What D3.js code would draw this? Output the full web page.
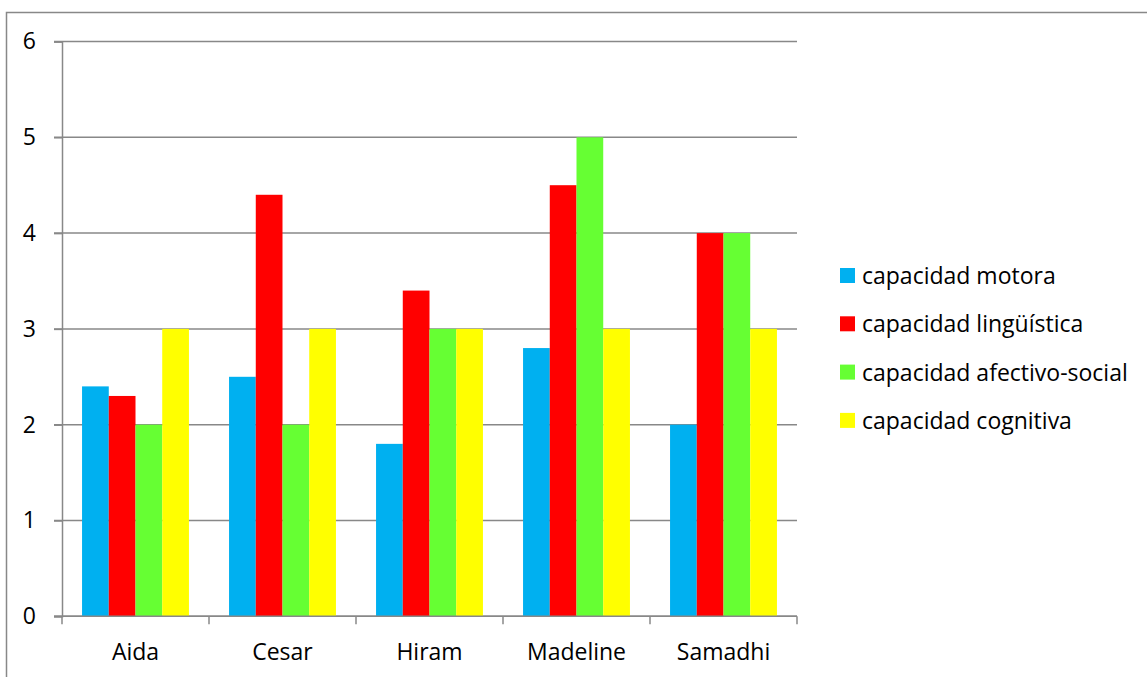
<!DOCTYPE html>
<html>
<head>
<meta charset="utf-8">
<script src="https://cdn.jsdelivr.net/npm/d3@7"></script>
<style>
  body { margin: 0; background: #fff; }
  text { font-family: "Open Sans", "Noto Sans", sans-serif; fill: #000; }
</style>
</head>
<body>
<svg id="chart"></svg>
<script>
let names = ["Aida", "Cesar", "Hiram", "Madeline", "Samadhi"]
let series_names = ["capacidad motora", "capacidad lingüística", "capacidad afectivo-social", "capacidad cognitiva"]
let series_colors = ["#00b0f0", "#ff0000", "#66ff33", "#ffff00"]
let motora = [2.4, 2.5, 1.8, 2.8, 2]
let linguistica = [2.3, 4.4, 3.4, 4.5, 4]
let afectivo = [2, 2, 3, 5, 4]
let cognitiva = [3, 3, 3, 3, 3]
let y_ticks = [0, 1, 2, 3, 4, 5, 6]

let series_values = [motora, linguistica, afectivo, cognitiva]

let width = 1147
let height = 677
let font_size = '23px'
let svg = d3.select('#chart')
    .attr('width', width)
    .attr('height', height)

// outer frame, runs off the right and bottom edge
svg.append('rect')
    .attr('x', 6.5)
    .attr('y', 12.5)
    .attr('width', 1160)
    .attr('height', 700)
    .attr('fill', 'none')
    .attr('stroke', '#888')
    .attr('stroke-width', 1.5)

let p_left = 62, p_right = 797, p_top = 41.5, p_bottom = 616.3

let x0 = d3.scaleBand()
    .domain(names)
    .range([p_left, p_right])
    .paddingInner(0)
    .paddingOuter(0)

let x1 = d3.scaleBand()
    .domain(d3.range(series_names.length))
    .range([0, x0.bandwidth()])
    .paddingInner(0)
    .paddingOuter(0.75)  // gap width ~150%

let y = d3.scaleLinear()
    .domain([0, 6])
    .range([p_bottom, p_top])

// gridlines
svg.append('g')
    .selectAll('line')
    .data(y_ticks)
    .enter()
    .append('line')
    .attr('x1', p_left - 8)
    .attr('x2', p_right)
    .attr('y1', function(d){ return y(d) })
    .attr('y2', function(d){ return y(d) })
    .attr('stroke', '#888')
    .attr('stroke-width', 1.5)

// bars
let groups = svg.append('g')
    .selectAll('g')
    .data(names)
    .enter()
    .append('g')
    .attr('transform', function(d){ return 'translate(' + x0(d) + ',0)' })

groups.selectAll('rect')
    .data(function(d, i){ return series_values.map(function(s, j){ return {j: j, v: s[i]} }) })
    .enter()
    .append('rect')
    .attr('x', function(d){ return x1(d.j) })
    .attr('width', x1.bandwidth())
    .attr('y', function(d){ return y(d.v) })
    .attr('height', function(d){ return p_bottom - y(d.v) })
    .attr('fill', function(d){ return series_colors[d.j] })

// y axis
let y_axis = svg.append('g')
    .attr('transform', 'translate(' + p_left + ',0)')
    .call(d3.axisLeft(y).tickValues(y_ticks).tickSize(8).tickPadding(18).tickFormat(d3.format('d')))
y_axis.select('.domain').attr('stroke', '#888').attr('stroke-width', 1.5)
y_axis.selectAll('.tick line').attr('stroke', '#888').attr('stroke-width', 1.5)
y_axis.selectAll('.tick text')
    .style('font-family', '"Open Sans", sans-serif')
    .style('font-size', font_size)
    .attr('fill', '#000')

// x axis, ticks at band edges
let x_axis = svg.append('g')
    .attr('transform', 'translate(0,' + p_bottom + ')')
x_axis.append('line')
    .attr('x1', p_left - 8)
    .attr('x2', p_right)
    .attr('stroke', '#888')
    .attr('stroke-width', 1.5)
let edges = names.map(function(d){ return x0(d) }).concat([p_right])
x_axis.selectAll('.edge')
    .data(edges)
    .enter()
    .append('line')
    .attr('class', 'edge')
    .attr('x1', function(d){ return d })
    .attr('x2', function(d){ return d })
    .attr('y1', 0)
    .attr('y2', 8)
    .attr('stroke', '#888')
    .attr('stroke-width', 1.5)
x_axis.selectAll('.lbl')
    .data(names)
    .enter()
    .append('text')
    .attr('class', 'lbl')
    .attr('x', function(d){ return x0(d) + x0.bandwidth() / 2 })
    .attr('y', 44)
    .attr('text-anchor', 'middle')
    .style('font-size', font_size)
    .text(function(d){ return d })

// legend
let legend = svg.append('g')
    .selectAll('g')
    .data(series_names)
    .enter()
    .append('g')
    .attr('transform', function(d, i){ return 'translate(840,' + (268 + i * 48.3) + ')' })
legend.append('rect')
    .attr('width', 15)
    .attr('height', 15)
    .attr('fill', function(d, i){ return series_colors[i] })
legend.append('text')
    .attr('x', 22)
    .attr('y', 16)
    .style('font-size', font_size)
    .text(function(d){ return d })
</script>
</body>
</html>
